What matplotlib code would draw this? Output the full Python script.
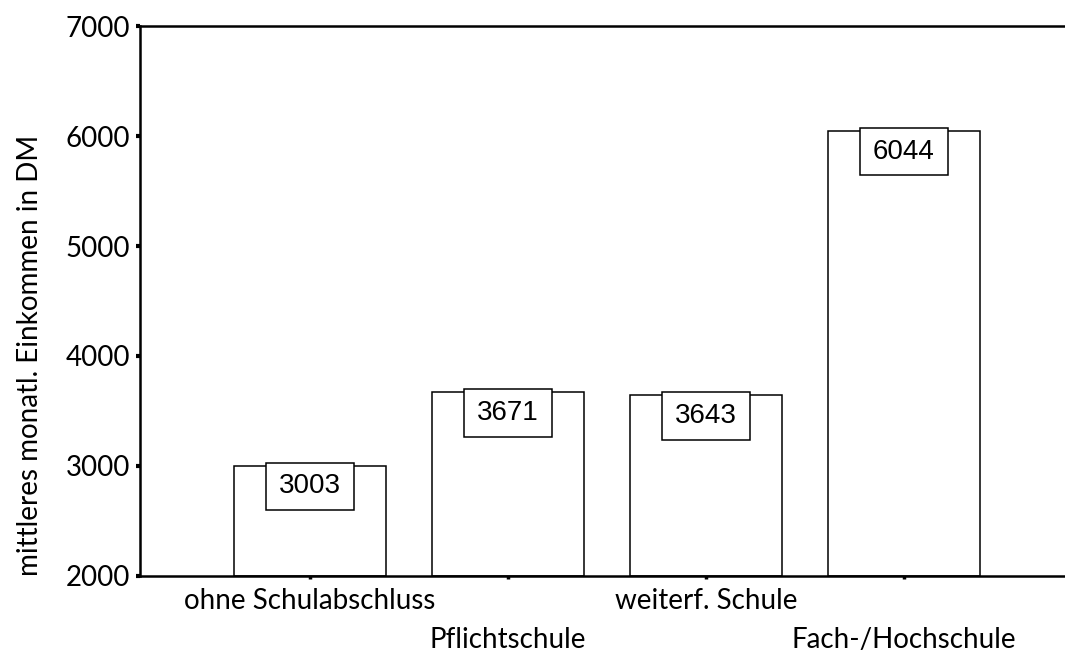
import matplotlib
matplotlib.use("Agg")
import matplotlib.pyplot as plt
from matplotlib.patches import Rectangle

categories = ['ohne Schulabschluss', 'Pflichtschule', 'weiterf. Schule', 'Fach-/Hochschule']
income = [3003, 3671, 3643, 6044]
yticks = [2000, 3000, 4000, 5000, 6000, 7000]

plt.rcParams['font.family'] = ['Lato', 'DejaVu Sans']

fig = plt.figure(figsize=(10.65, 6.57), dpi=100)
ax = fig.add_axes([140 / 1065, 81 / 657, 925 / 1065, 550 / 657])

x = list(range(len(categories)))
ax.bar(x, [v - 2000 for v in income], bottom=2000, width=0.768,
       color='white', edgecolor='black', linewidth=1.1, zorder=2)

# value boxes
for xi, v in zip(x, income):
    ax.add_patch(Rectangle((xi - 0.222, v - 403), 0.444, 430,
                           facecolor='white', edgecolor='black', linewidth=1.1, zorder=3))
    ax.text(xi, v - 188, str(v), ha='center', va='center', fontsize=20,
            family=['Liberation Sans'], zorder=4)

ax.set_xlim(-0.859, 3.813)
ax.set_ylim(2000, 7000)
ax.set_yticks(yticks)
ax.set_yticklabels([str(t) for t in yticks], fontsize=20)

ax.set_xticks(x)
labels = [c if i % 2 == 0 else '\n' + c for i, c in enumerate(categories)]
ax.set_xticklabels(labels, fontsize=20)
for lbl in ax.get_xticklabels():
    lbl.set_linespacing(1.65)
    lbl.set_verticalalignment('top')

ax.spines['right'].set_visible(False)
for s in ['left', 'bottom', 'top']:
    ax.spines[s].set_linewidth(1.8)

ax.tick_params(axis='y', direction='out', length=3, width=3, pad=4)
ax.tick_params(axis='x', direction='out', length=2.5, width=2.5, pad=6)

fig.text(30 / 1065, (657 - 355) / 657, 'mittleres monatl. Einkommen in DM',
         rotation=90, ha='center', va='center', fontsize=20)

fig.savefig('out.png', dpi=100)
